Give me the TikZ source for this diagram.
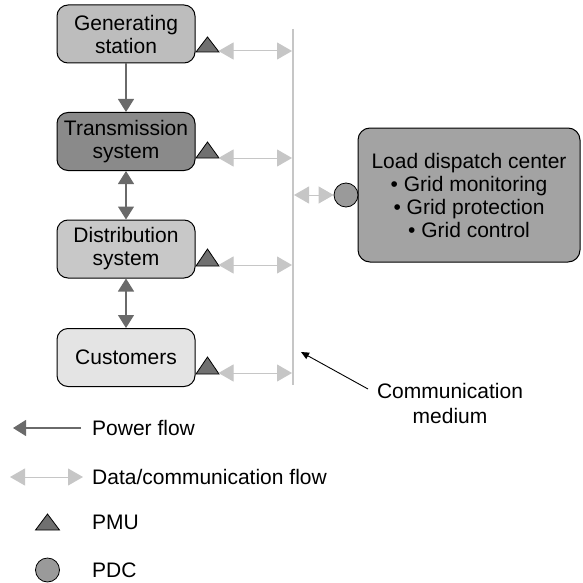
\documentclass[tikz,border=0pt]{standalone}
\usepackage{fontspec}
\setmainfont{Liberation Sans}
\usetikzlibrary{arrows.meta}
\definecolor{genfill}{HTML}{BDBDBD}
\definecolor{trfill}{HTML}{8A8A8A}
\definecolor{dsfill}{HTML}{C8C8C8}
\definecolor{cufill}{HTML}{E4E4E4}
\definecolor{ldfill}{HTML}{A3A3A3}
\definecolor{pmufill}{HTML}{707070}
\definecolor{pdcfill}{HTML}{9A9A9A}
\definecolor{datagray}{HTML}{C6C6C6}
\definecolor{powgray}{HTML}{6A6A6A}
\begin{document}
\begin{tikzpicture}[x=1pt,y=-1pt,
  every node/.style={font=\fontsize{21}{23}\selectfont},
  unitbox/.style={draw=black,line width=1pt,rounded corners=11pt,minimum width=138pt,minimum height=58pt,inner sep=0pt,align=center},
  pmu/.style={draw=black,line width=0.8pt,fill=pmufill},
  pdc/.style={circle,draw=black,line width=0.8pt,fill=pdcfill,minimum size=24pt,inner sep=0pt},
  dataflow/.style={draw=datagray,line width=1pt,{Triangle[width=17pt,length=15pt]}-{Triangle[width=17pt,length=15pt]}},
  powflow/.style={draw=powgray,line width=1.2pt,-{Triangle[width=16pt,length=13pt]}},
  powboth/.style={draw=powgray,line width=1.2pt,{Triangle[width=16pt,length=13pt]}-{Triangle[width=16pt,length=13pt]}},
  legtext/.style={anchor=west,inner sep=0pt}]
\useasboundingbox (0,0) rectangle (582,583);

% unit boxes
\node[unitbox,fill=genfill] (gen) at (126,34) {Generating\\station};
\node[unitbox,fill=trfill] (tr) at (126,141.5) {Transmission\\system};
\node[unitbox,fill=dsfill] (ds) at (126,249) {Distribution\\system};
\node[unitbox,fill=cufill] (cu) at (126,357.5) {Customers};

% load dispatch center
\node[draw=black,line width=1pt,fill=ldfill,rounded corners=12pt,minimum width=222pt,minimum height=134pt,inner sep=0pt,align=center] (ldc) at (469,195)
  {Load dispatch center\\ \textbullet\ Grid monitoring\\ \textbullet\ Grid protection\\ \textbullet\ Grid control};

% communication bus
\coordinate (bustop) at (292.5,29);
\coordinate (busbot) at (292.5,385);
\draw[datagray,line width=2pt] (bustop) -- (busbot);
\coordinate (busG) at (292,51);
\coordinate (busT) at (292,158);
\coordinate (busD) at (292,265);
\coordinate (busC) at (292,373);
\coordinate (busP) at (294,195);

% PMUs
\draw[pmu] (196,52) -- (207.5,37) -- (219,52) -- cycle;
\coordinate (pmuG) at (218.5,51);
\draw[pmu] (196,158) -- (207.5,142) -- (219,158) -- cycle;
\coordinate (pmuT) at (218.5,158);
\draw[pmu] (196,266) -- (207.5,249) -- (219,266) -- cycle;
\coordinate (pmuD) at (218.5,265);
\draw[pmu] (196,374) -- (207.5,357) -- (219,374) -- cycle;
\coordinate (pmuC) at (218.5,373);

% PDC
\node[pdc] (pdc) at (346,195) {};

% data flows
\draw[dataflow] (pmuG) -- (busG);
\draw[dataflow] (pmuT) -- (busT);
\draw[dataflow] (pmuD) -- (busD);
\draw[dataflow] (pmuC) -- (busC);
\draw[dataflow] (busP) -- (pdc.west);

% power flows
\draw[powflow] (gen.south) -- (tr.north);
\draw[powboth] (tr.south) -- (ds.north);
\draw[powboth] (ds.south) -- (cu.north);

% communication medium label
\node[align=center,inner sep=0pt,font=\fontsize{21}{25}\selectfont] (cm) at (450,403) {Communication\\medium};
\coordinate (cmtail) at (368,389);
\coordinate (cmtip) at (301,352);
\draw[black,line width=0.9pt,-{Triangle[width=7pt,length=8pt]}] (cmtail) -- (cmtip);

% legend
\coordinate (lpA) at (81,428);
\coordinate (lpB) at (13,428);
\draw[powflow] (lpA) -- (lpB);
\node[legtext] (lp) at (92,428) {Power flow};

\coordinate (ldA) at (10,477);
\coordinate (ldB) at (83,477);
\draw[dataflow] (ldA) -- (ldB);
\node[legtext] (ld) at (92,477) {Data/communication flow};

\draw[pmu] (35.5,530) -- (47.5,514) -- (59.5,530) -- cycle;
\node[legtext] (lpmu) at (92,522) {PMU};

\node[pdc] (lpdcsym) at (47.5,570) {};
\node[legtext] (lpdc) at (92,570) {PDC};
\end{tikzpicture}
\end{document}
